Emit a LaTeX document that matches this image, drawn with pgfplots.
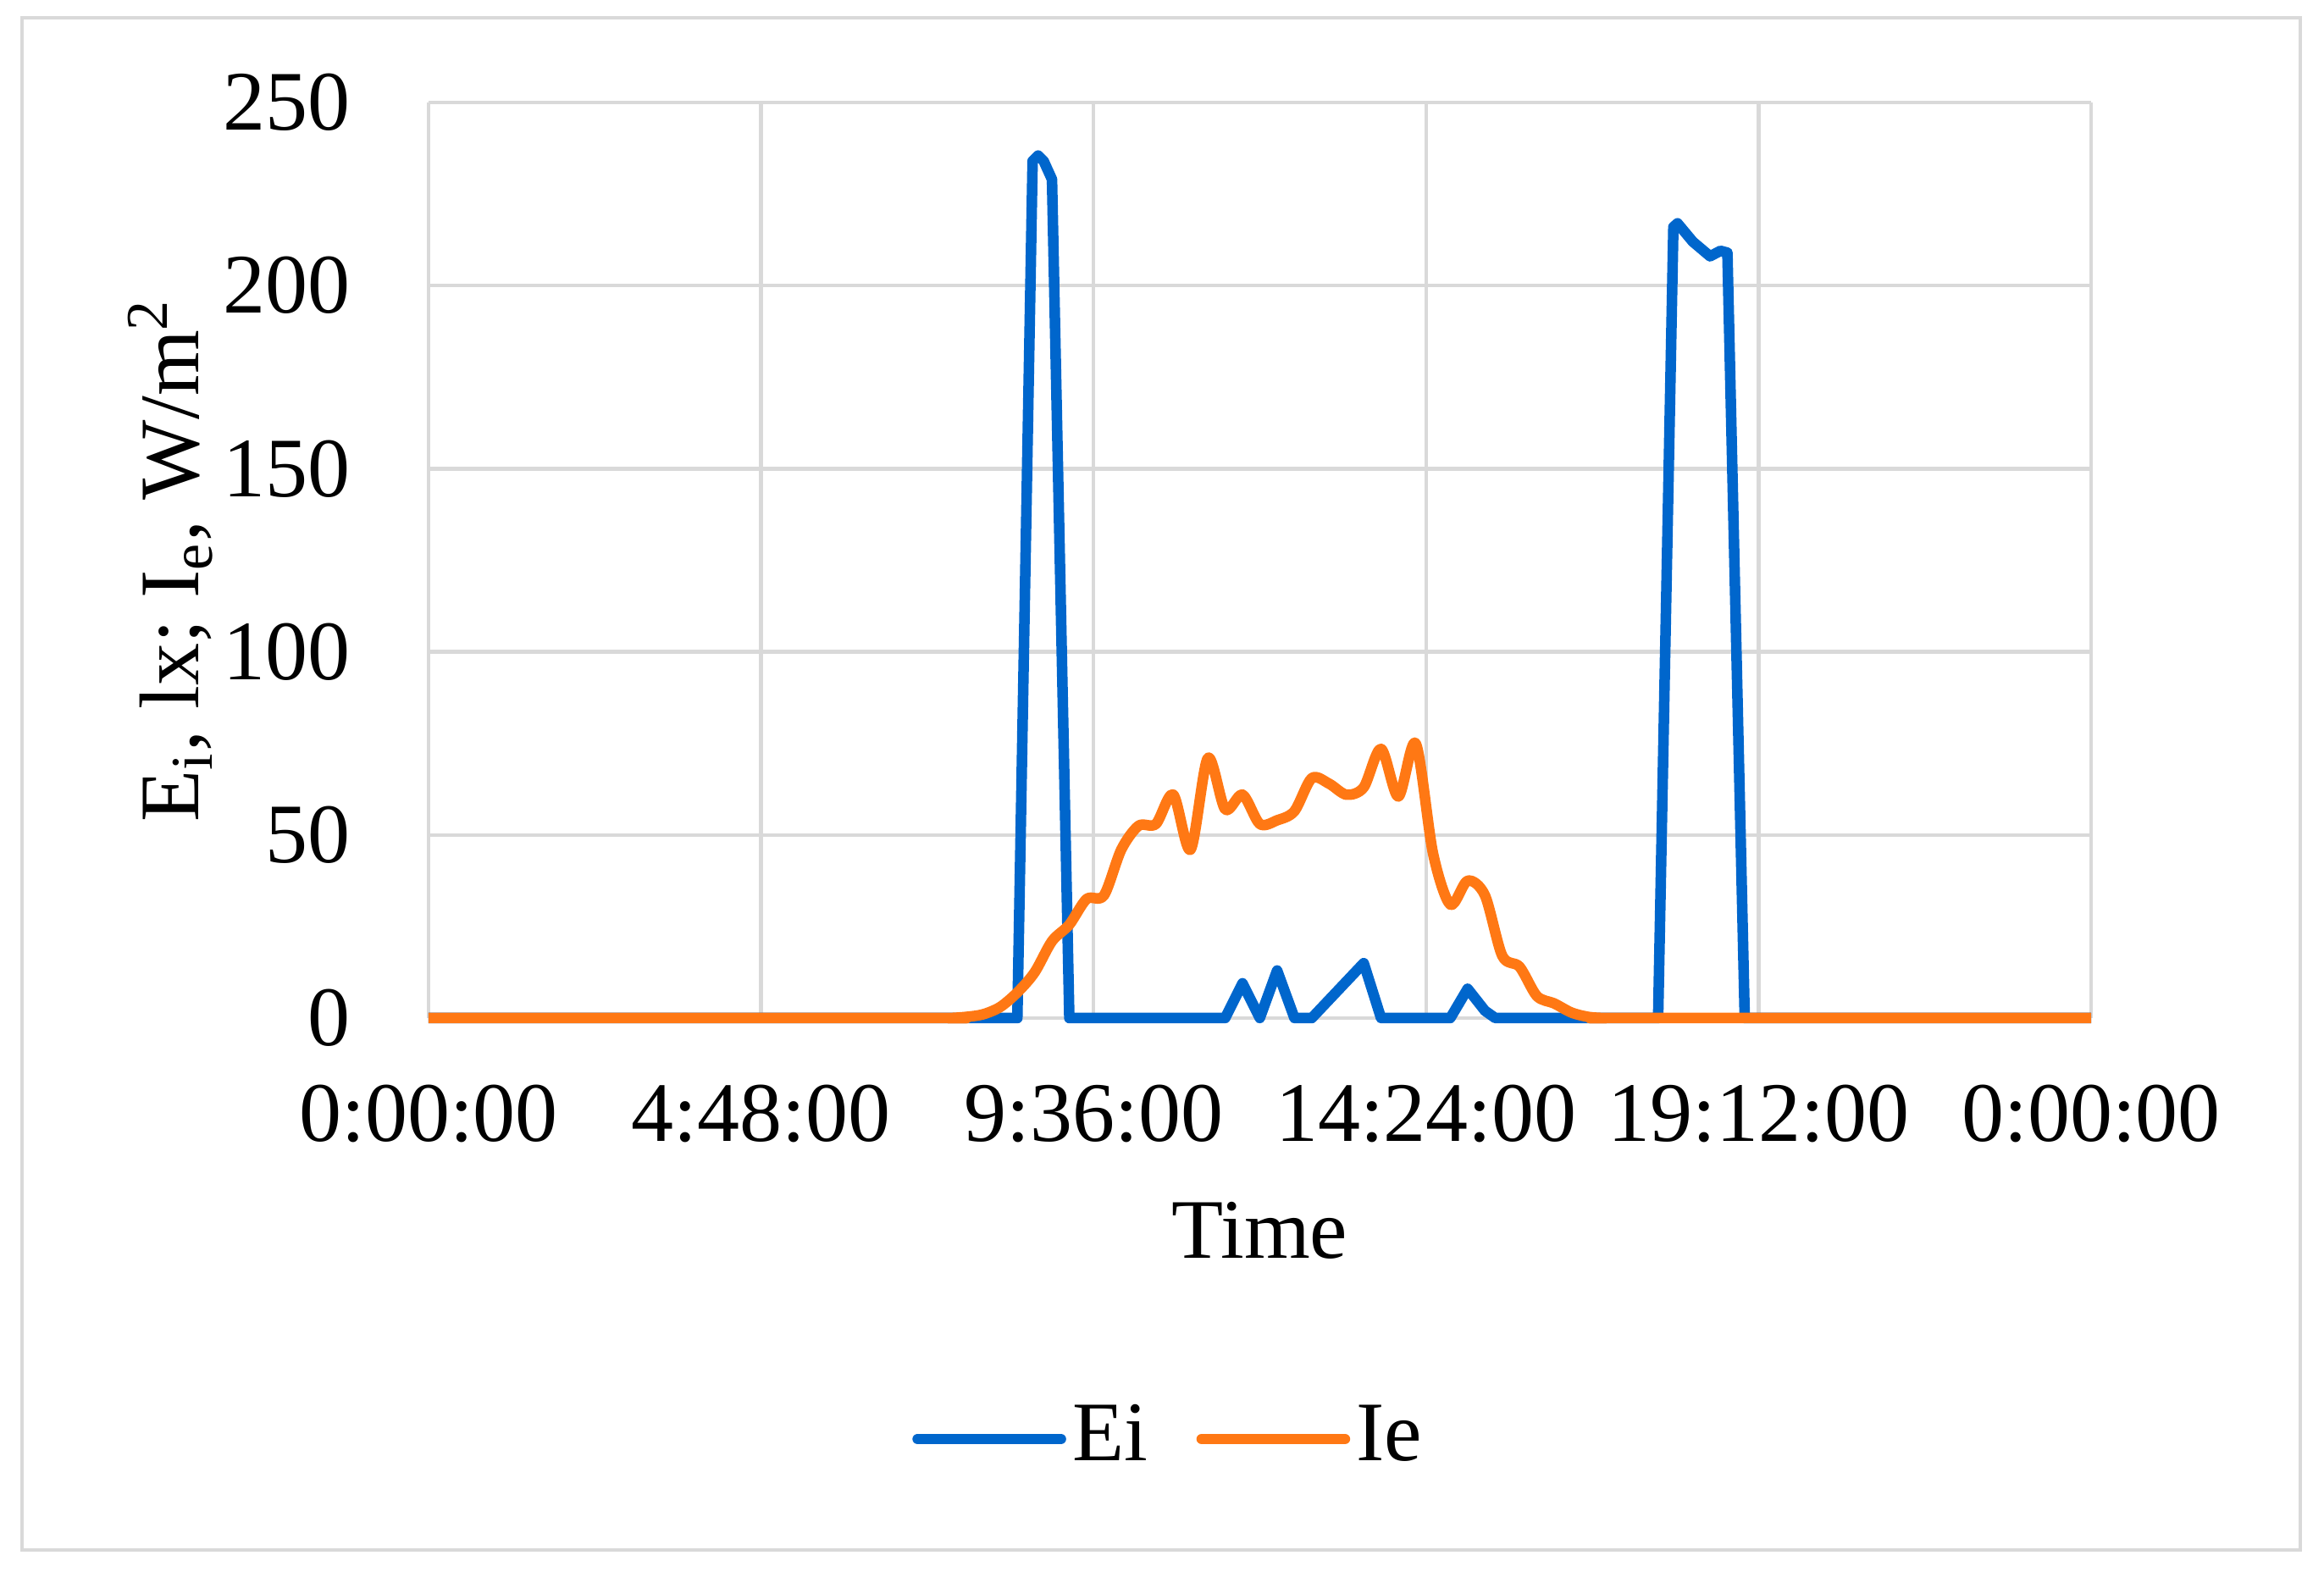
\documentclass[border=0pt]{standalone}
\usepackage{pgfplots}
\pgfplotsset{compat=1.18}
\usepackage{fontspec}
\setmainfont{Liberation Serif}
\definecolor{eiblue}{RGB}{0,102,204}
\definecolor{ieorange}{RGB}{255,120,20}
\definecolor{gridgray}{RGB}{217,217,217}
\begin{document}
\fontsize{20}{24}\selectfont
\begin{tikzpicture}
\path[use as bounding box] (-101.2pt,-130.8pt) rectangle (447.6pt,240.4pt);
\draw[gridgray, line width=0.8pt] (-96pt,-125.6pt) rectangle (442pt,236.2pt);
\begin{axis}[
  at={(0pt,0pt)}, anchor=south west,
  scale only axis, width=392.6pt, height=216.2pt,
  xmin=0, xmax=24, ymin=0, ymax=250,
  xtick={0,4.8,9.6,14.4,19.2,24},
  xticklabels={0:00:00,4:48:00,9:36:00,14:24:00,19:12:00,0:00:00},
  ytick={0,50,100,150,200,250},
  grid=major, major grid style={gridgray, line width=0.9pt},
  axis line style={draw=none}, tick style={draw=none},
  xticklabel style={anchor=north, inner sep=0pt, yshift=-15.6pt},
  yticklabel style={anchor=east, inner sep=0pt, xshift=-18.3pt},
  /pgf/number format/assume math mode=true,
  xlabel={Time},
  xlabel style={at={(axis description cs:0.5,0)}, anchor=center, yshift=-50.2pt},
  ylabel={E\textsubscript{i}, lx; I\textsubscript{e}, W/m\textsuperscript{2}},
  ylabel style={at={(axis description cs:-0.1554,0.5)}, anchor=center},
  clip=false,
  legend columns=2,
  legend style={at={(0.4463,-0.4598)}, anchor=center, draw=none, fill=none,
    nodes={inner sep=1.5pt}, /tikz/every even column/.append style={column sep=10pt}},
  legend image code/.code={\draw[#1, line width=2.5pt, line cap=round] (0pt,0pt) -- (33.8pt,0pt);},
]
\addplot[eiblue, line width=2.5pt, line join=round] coordinates {
(0,0) (8.5,0) (8.72,234) (8.8,235.5) (8.88,234) (9.0,229) (9.25,0) (11.5,0)
(11.75,9.5) (12.0,0) (12.25,13) (12.5,0) (12.75,0) (13.0,5) (13.25,10)
(13.5,15) (13.75,0) (14.75,0) (15.0,8) (15.25,2) (15.4,0) (17.75,0)
(17.97,216) (18.03,217) (18.25,212) (18.5,208) (18.65,209.5) (18.75,209) (19.0,0) (24,0)
};
\addlegendentry{Ei}
\addplot[ieorange, line width=2.5pt, line join=round, smooth, tension=0.5] coordinates {
(0,0) (7.25,0) (7.5,0) (7.75,0.3) (8.0,1) (8.25,3) (8.5,7) (8.75,12.5)
(9.0,21) (9.25,25.5) (9.5,32.5) (9.75,33.5) (10.0,46) (10.25,52.5)
(10.5,53) (10.75,61) (11.0,46) (11.25,71) (11.5,57) (11.75,61) (12.0,53)
(12.25,54) (12.5,56.5) (12.75,65.5) (13.0,64) (13.25,61) (13.5,63)
(13.75,73.5) (14.0,60.5) (14.25,75) (14.5,45) (14.75,31) (15.0,37.5)
(15.25,33.5) (15.5,17) (15.75,14) (16.0,6) (16.25,4) (16.5,1.5)
(16.75,0.3) (17.0,0) (17.25,0) (24,0)
};
\addlegendentry{Ie}
\end{axis}
\end{tikzpicture}
\end{document}
